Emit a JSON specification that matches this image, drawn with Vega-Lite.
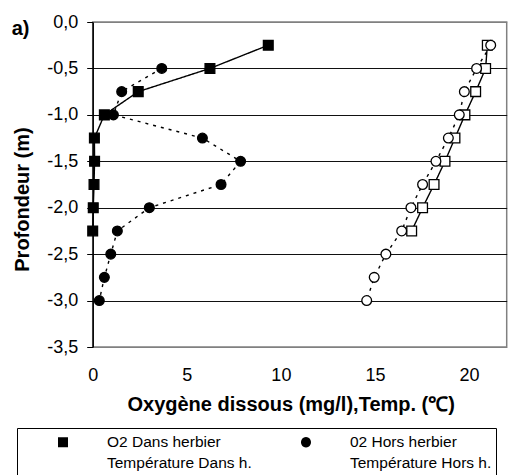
{
  "$schema": "https://vega.github.io/schema/vega-lite/v6.json",
  "width": 414,
  "height": 325,
  "autosize": {"type": "none"},
  "padding": {"left": 92.7, "top": 22, "right": 1.3, "bottom": 128},
  "background": "white",
  "title": {
    "text": "a)",
    "anchor": "start",
    "frame": "group",
    "font": "Liberation Sans",
    "fontSize": 20,
    "fontWeight": "bold",
    "color": "black",
    "baseline": "alphabetic",
    "dx": -81,
    "dy": 42,
    "offset": 0
  },
  "data": {
    "values": [
      {"series": "O2 Dans herbier", "depth": -0.25, "value": 9.33},
      {"series": "O2 Dans herbier", "depth": -0.5, "value": 6.23},
      {"series": "O2 Dans herbier", "depth": -0.75, "value": 2.42},
      {"series": "O2 Dans herbier", "depth": -1.0, "value": 0.62},
      {"series": "O2 Dans herbier", "depth": -1.25, "value": 0.09},
      {"series": "O2 Dans herbier", "depth": -1.5, "value": 0.1},
      {"series": "O2 Dans herbier", "depth": -1.75, "value": 0.07},
      {"series": "O2 Dans herbier", "depth": -2.0, "value": 0.03},
      {"series": "O2 Dans herbier", "depth": -2.25, "value": 0.0},
      {"series": "02 Hors herbier", "depth": -0.5, "value": 3.67},
      {"series": "02 Hors herbier", "depth": -0.75, "value": 1.54},
      {"series": "02 Hors herbier", "depth": -1.0, "value": 1.1},
      {"series": "02 Hors herbier", "depth": -1.25, "value": 5.83},
      {"series": "02 Hors herbier", "depth": -1.5, "value": 7.86},
      {"series": "02 Hors herbier", "depth": -1.75, "value": 6.82},
      {"series": "02 Hors herbier", "depth": -2.0, "value": 3.01},
      {"series": "02 Hors herbier", "depth": -2.25, "value": 1.31},
      {"series": "02 Hors herbier", "depth": -2.5, "value": 0.96},
      {"series": "02 Hors herbier", "depth": -2.75, "value": 0.62},
      {"series": "02 Hors herbier", "depth": -3.0, "value": 0.35},
      {"series": "Température Dans h.", "depth": -0.25, "value": 20.97},
      {"series": "Température Dans h.", "depth": -0.5, "value": 20.88},
      {"series": "Température Dans h.", "depth": -0.75, "value": 20.35},
      {"series": "Température Dans h.", "depth": -1.0, "value": 19.78},
      {"series": "Température Dans h.", "depth": -1.25, "value": 19.25},
      {"series": "Température Dans h.", "depth": -1.5, "value": 18.72},
      {"series": "Température Dans h.", "depth": -1.75, "value": 18.14},
      {"series": "Température Dans h.", "depth": -2.0, "value": 17.53},
      {"series": "Température Dans h.", "depth": -2.25, "value": 16.95},
      {"series": "Température Hors h.", "depth": -0.25, "value": 21.15},
      {"series": "Température Hors h.", "depth": -0.5, "value": 20.4},
      {"series": "Température Hors h.", "depth": -0.75, "value": 19.75},
      {"series": "Température Hors h.", "depth": -1.0, "value": 19.48},
      {"series": "Température Hors h.", "depth": -1.25, "value": 18.9},
      {"series": "Température Hors h.", "depth": -1.5, "value": 18.24},
      {"series": "Température Hors h.", "depth": -1.75, "value": 17.53},
      {"series": "Température Hors h.", "depth": -2.0, "value": 16.91},
      {"series": "Température Hors h.", "depth": -2.25, "value": 16.42},
      {"series": "Température Hors h.", "depth": -2.5, "value": 15.58},
      {"series": "Température Hors h.", "depth": -2.75, "value": 14.96},
      {"series": "Température Hors h.", "depth": -3.0, "value": 14.56}
    ]
  },
  "encoding": {
    "x": {
      "field": "value",
      "type": "quantitative",
      "scale": {"domain": [0, 22], "nice": false, "zero": false},
      "axis": {
        "values": [0, 5, 10, 15, 20],
        "domain": false,
        "ticks": false,
        "tickSize": 0,
        "grid": false,
        "labelFlush": false,
        "labelOverlap": false,
        "labelFont": "Liberation Sans",
        "labelFontSize": 18,
        "labelColor": "black",
        "labelPadding": 19,
        "title": "Oxygène dissous (mg/l),Temp. (℃)",
        "titleFont": "Liberation Sans",
        "titleFontSize": 20,
        "titleFontWeight": "bold",
        "titleColor": "black",
        "titleAlign": "center",
        "titleBaseline": "alphabetic",
        "titleX": 198,
        "titleY": 63
      }
    },
    "y": {
      "field": "depth",
      "type": "quantitative",
      "scale": {"domain": [-3.5, 0], "nice": false, "zero": false},
      "axis": {
        "values": [0, -0.5, -1, -1.5, -2, -2.5, -3, -3.5],
        "domain": true,
        "domainColor": "black",
        "domainWidth": 1.5,
        "ticks": true,
        "tickSize": 6,
        "tickColor": "black",
        "tickWidth": 1,
        "grid": true,
        "gridColor": {"condition": {"test": "datum.value === 0 || datum.value === -3.5", "value": "#808080"}, "value": "#111111"},
        "gridWidth": 1,
        "labelFlush": false,
        "labelOverlap": false,
        "labelExpr": "replace(replace(format(datum.value, '.1f'), '.', ','), '−', '-')",
        "labelFont": "Liberation Sans",
        "labelFontSize": 18,
        "labelColor": "black",
        "labelPadding": 9,
        "title": "Profondeur (m)",
        "titleFont": "Liberation Sans",
        "titleFontSize": 20,
        "titleFontWeight": "bold",
        "titleColor": "black",
        "titleAlign": "center",
        "titleBaseline": "alphabetic",
        "titleAngle": 270,
        "titleX": -64,
        "titleY": 177
      }
    }
  },
  "layer": [
    {
      "mark": {"type": "line", "color": "black", "strokeWidth": 1.4},
      "encoding": {
        "detail": {"field": "series", "type": "nominal"},
        "order": {"field": "depth", "sort": "descending"},
        "strokeDash": {
          "condition": {"test": "indexof(datum.series, 'Hors') >= 0", "value": [3, 5]},
          "value": [1, 0]
        }
      }
    },
    {
      "mark": {"type": "point", "filled": true, "stroke": "black", "strokeWidth": 1.3, "opacity": 1, "size": 95},
      "encoding": {
        "shape": {
          "condition": {"test": "indexof(datum.series, 'Hors') >= 0", "value": "circle"},
          "value": "square"
        },
        "fill": {
          "condition": {"test": "indexof(datum.series, 'Temp') === 0", "value": "white"},
          "value": "black"
        }
      }
    },
    {
      "mark": {"type": "point", "filled": false, "color": "black", "stroke": "black", "strokeWidth": 1.3, "opacity": 0, "size": 1},
      "encoding": {
        "shape": {
          "field": "series",
          "type": "nominal",
          "scale": {
            "domain": ["O2 Dans herbier", "02 Hors herbier", "Température Dans h.", "Température Hors h."],
            "range": [
              "M-0.667,0H7.444M3,-0.556H4.111V0.556H3Z",
              "M-0.667,0H-0.111M0.278,0H0.833M1.222,0H1.778M2.167,0H2.722M4.444,0H5M5.389,0H5.944M6.333,0H6.889M4.111,0A0.556,0.556,0,1,1,3,0A0.556,0.556,0,1,1,4.111,0Z",
              "M-0.667,0H7.444M3.111,-0.444H4V0.444H3.111Z",
              "M-0.667,0H-0.111M0.278,0H0.833M1.222,0H1.778M2.167,0H2.722M4.444,0H5M5.389,0H5.944M6.333,0H6.889M4,0A0.444,0.444,0,1,1,3.111,0A0.444,0.444,0,1,1,4,0Z"
            ]
          },
          "legend": {
            "orient": "none",
            "direction": "horizontal",
            "legendX": -75.7,
            "legendY": 406,
            "columns": 2,
            "title": null,
            "padding": 4,
            "strokeColor": "black",
            "fillColor": "white",
            "symbolSize": 324,
            "symbolOpacity": 1,
            "symbolStrokeWidth": 1.3,
            "symbolStrokeColor": "black",
            "labelOffset": 66,
            "labelFont": "Liberation Sans",
            "labelFontSize": 15.5,
            "labelColor": "black",
            "labelLimit": 300,
            "rowPadding": 2,
            "columnPadding": 12
          }
        },
        "fill": {
          "field": "series",
          "type": "nominal",
          "scale": {
            "domain": ["O2 Dans herbier", "02 Hors herbier", "Température Dans h.", "Température Hors h."],
            "range": ["black", "black", "white", "white"]
          },
          "legend": {
            "orient": "none",
            "direction": "horizontal",
            "legendX": -75.7,
            "legendY": 406,
            "columns": 2,
            "title": null,
            "padding": 4,
            "strokeColor": "black",
            "fillColor": "white",
            "symbolSize": 324,
            "symbolOpacity": 1,
            "symbolStrokeWidth": 1.3,
            "symbolStrokeColor": "black",
            "labelOffset": 66,
            "labelFont": "Liberation Sans",
            "labelFontSize": 15.5,
            "labelColor": "black",
            "labelLimit": 300,
            "rowPadding": 2,
            "columnPadding": 12
          }
        }
      }
    }
  ],
  "config": {
    "view": {"stroke": "#808080", "strokeWidth": 1.5},
    "font": "Liberation Sans"
  }
}
